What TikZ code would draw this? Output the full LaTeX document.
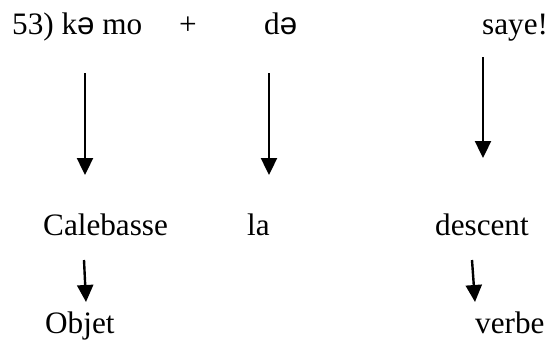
\documentclass[tikz,border=0pt]{standalone}
\usepackage{fontspec}
\setmainfont{Liberation Serif}
\newfontfamily\ipasans{Liberation Sans}
\usepackage{tikz}
\usetikzlibrary{arrows.meta, positioning}
\newcommand{\shwa}{{\ipasans ə}}

\begin{document}
\begin{tikzpicture}[x=1pt, y=1pt,
    word/.style={font=\fontsize{31.2}{36}\selectfont, inner sep=0pt, anchor=base west},
    arr/.style={line width=2.4pt, -{Triangle[length=17pt, width=16pt]}}]
      \useasboundingbox (0,0) rectangle (550,-343);
      % top line
      \node[word] (kemo) at (12,-34) {53) k\shwa{} mo};
      \node[word, anchor=base] (plus) at (188,-34) {+};
      \node[word] (de) at (264,-34) {d\shwa};
      \node[word] (saye) at (482,-34) {saye!};
      % glosses
      \node[word] (cale) at (43,-235) {Calebasse};
      \node[word] (la) at (247,-235) {la};
      \node[word] (desc) at (435,-235) {descent};
      \node[word] (objet) at (45,-333) {Objet};
      \node[word] (verbe) at (475,-333) {verbe};
      \draw[arr] ([shift={(73,-39)}]kemo.base west) -- ([shift={(42,60)}]cale.base west);
      \draw[arr] ([shift={(5,-39)}]de.base west) -- ([shift={(22,60)}]la.base west);
      \draw[arr] ([shift={(1,-23)}]saye.base west) -- ([shift={(48,77)}]desc.base west);
      \draw[arr] ([shift={(41,-25)}]cale.base west) -- ([shift={(41,31)}]objet.base west);
      \draw[arr] ([shift={(37,-25)}]desc.base west) -- ([shift={(0,31)}]verbe.base west);
    \end{tikzpicture}
\end{document}
